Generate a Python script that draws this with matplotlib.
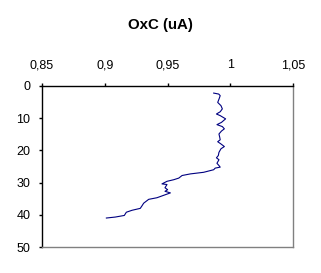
import matplotlib
matplotlib.use("Agg")
import matplotlib.pyplot as plt
from matplotlib.ticker import FuncFormatter

plt.rcParams['font.family'] = ['Liberation Sans', 'DejaVu Sans']

# OxC reading (uA) against depth
oxc = [0.9868, 0.9908, 0.992, 0.9911, 0.990, 0.9926, 0.9937, 0.992, 0.989, 0.992,
       0.9963, 0.993, 0.9894, 0.9937, 0.9953, 0.993, 0.991, 0.9916, 0.992, 0.990,
       0.9926, 0.9953, 0.9926, 0.991, 0.9905, 0.989, 0.991, 0.9894, 0.991, 0.992,
       0.988, 0.9868, 0.9788, 0.9682, 0.9616, 0.959, 0.955, 0.9496, 0.9456, 0.9496,
       0.948, 0.9501, 0.948, 0.9523, 0.948, 0.9416, 0.935, 0.931, 0.9297, 0.9283,
       0.9217, 0.9172, 0.9156, 0.9084, 0.9013]
depth = [2.2, 2.5, 3.0, 4.0, 5.1, 6.1, 7.1, 8.0, 8.7, 9.2,
         10.2, 11.3, 12.0, 12.6, 13.3, 14.0, 14.9, 15.9, 16.7, 17.3,
         18.0, 18.8, 19.5, 20.6, 21.6, 22.3, 22.9, 24.0, 24.7, 25.2,
         25.5, 26.0, 26.8, 27.3, 27.8, 28.6, 29.1, 29.6, 30.4, 30.6,
         31.6, 32.2, 32.7, 33.2, 33.8, 34.7, 35.2, 36.4, 37.2, 38.0,
         38.6, 39.2, 40.2, 40.7, 41.0]
xticks = [0.85, 0.9, 0.95, 1.0, 1.05]
yticks = [0, 10, 20, 30, 40, 50]

fig = plt.figure(figsize=(3.21, 2.73), dpi=100)
ax = fig.add_axes([42/321, 1-247/273, 251/321, 161/273])
ax.plot(oxc, depth, color='#000080', lw=0.8)

ax.set_xlim(0.85, 1.05)
ax.set_ylim(50, 0)
ax.set_xticks(xticks)
ax.set_yticks(yticks)
ax.xaxis.tick_top()
ax.xaxis.set_major_formatter(FuncFormatter(lambda v, p: ('%g' % round(v, 2)).replace('.', ',')))
ax.tick_params(axis='both', direction='out', length=2.5, width=1, labelsize=9, color='black')
ax.tick_params(axis='x', pad=8)
ax.tick_params(axis='y', pad=6)

ax.spines['top'].set_color('black')
ax.spines['left'].set_color('black')
ax.spines['right'].set_color('#808080')
ax.spines['bottom'].set_color('#808080')
for s in ax.spines.values():
    s.set_linewidth(1)

fig.text(160/321, 1-25.5/273, 'OxC (uA)', ha='center', va='center', fontsize=10.8, fontweight='bold')

fig.savefig('out.png', dpi=100)
